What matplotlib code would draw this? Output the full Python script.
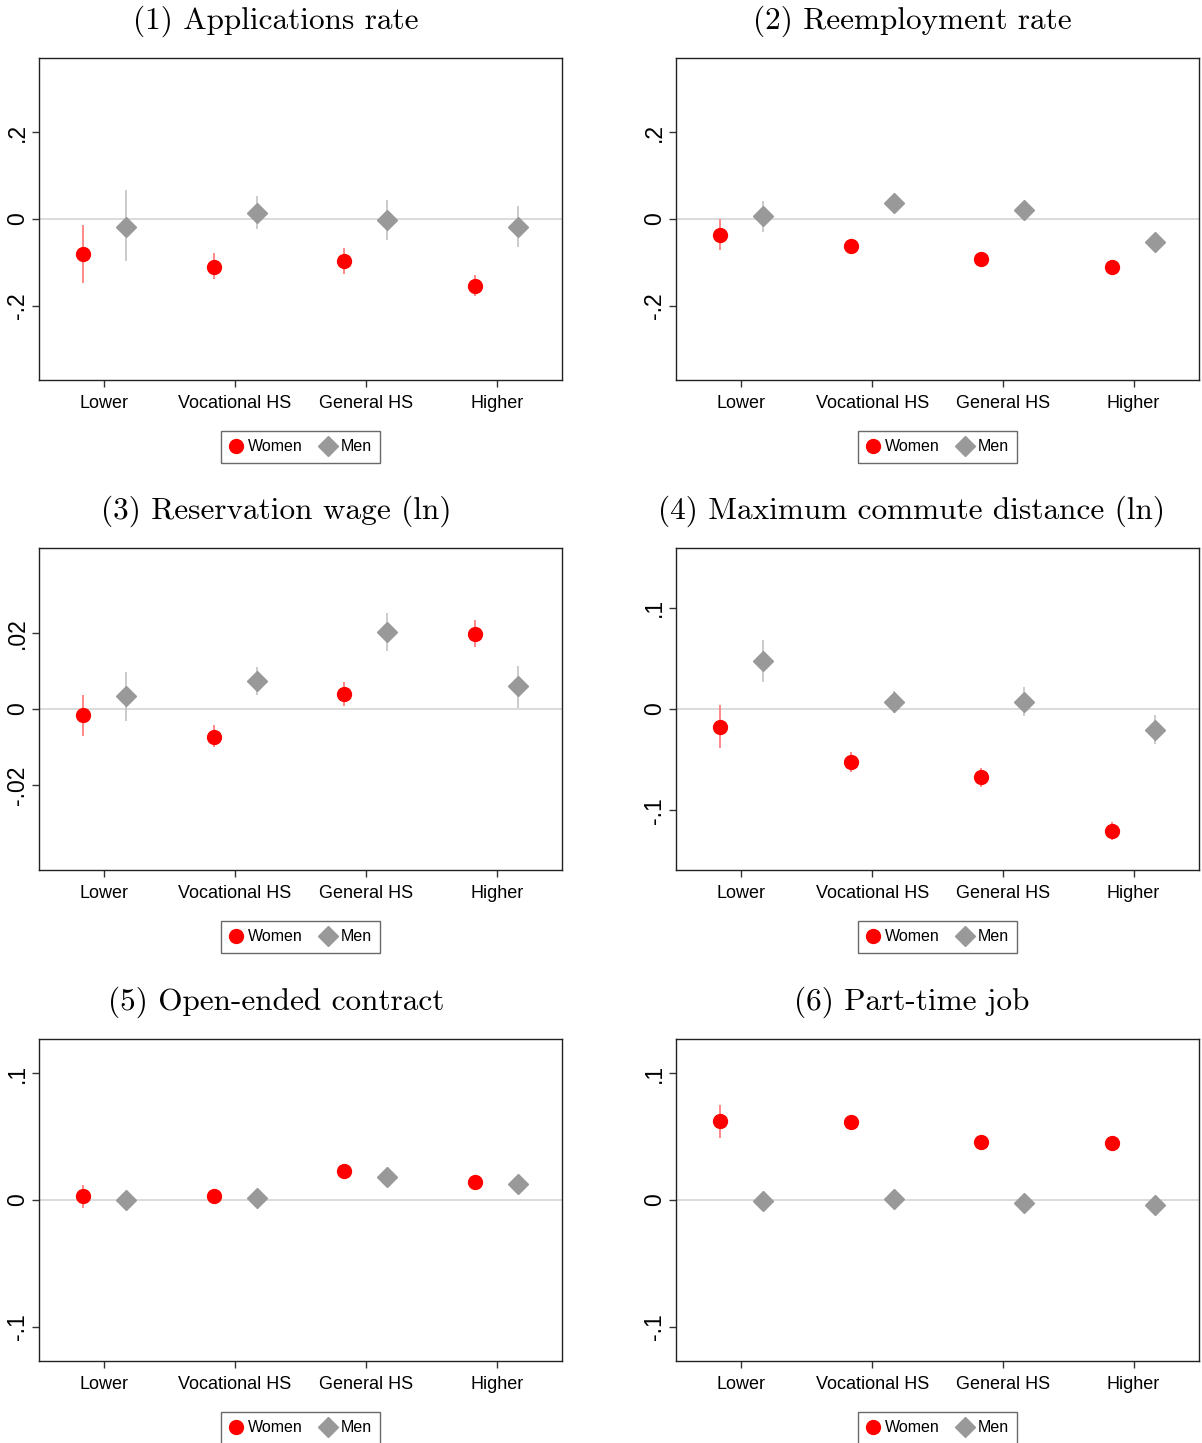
import matplotlib
matplotlib.use("Agg")
import matplotlib.pyplot as plt
from matplotlib.lines import Line2D

categories = ["Lower", "Vocational HS", "General HS", "Higher"]
titles = ["(1) Applications rate", "(2) Reemployment rate",
          "(3) Reservation wage (ln)", "(4) Maximum commute distance (ln)",
          "(5) Open-ended contract", "(6) Part-time job"]

# Panel 1: Applications rate
p1_women = [-0.082, -0.110, -0.096, -0.154]
p1_women_lo = [-0.147, -0.138, -0.126, -0.178]
p1_women_hi = [-0.013, -0.079, -0.066, -0.129]
p1_men = [-0.019, 0.014, -0.003, -0.018]
p1_men_lo = [-0.098, -0.023, -0.049, -0.065]
p1_men_hi = [0.068, 0.052, 0.045, 0.030]

# Panel 2: Reemployment rate
p2_women = [-0.036, -0.062, -0.093, -0.112]
p2_women_lo = [-0.071, -0.069, -0.100, -0.119]
p2_women_hi = [0.000, -0.055, -0.086, -0.105]
p2_men = [0.006, 0.038, 0.021, -0.053]
p2_men_lo = [-0.029, 0.031, 0.014, -0.060]
p2_men_hi = [0.042, 0.045, 0.028, -0.046]

# Panel 3: Reservation wage (ln)
p3_women = [-0.0017, -0.0073, 0.0039, 0.0197]
p3_women_lo = [-0.0072, -0.0100, 0.0008, 0.0162]
p3_women_hi = [0.0038, -0.0043, 0.0071, 0.0234]
p3_men = [0.0033, 0.0073, 0.0201, 0.0059]
p3_men_lo = [-0.0032, 0.0036, 0.0151, 0.0002]
p3_men_hi = [0.0097, 0.0111, 0.0252, 0.0114]

# Panel 4: Maximum commute distance (ln)
p4_women = [-0.0178, -0.052, -0.0674, -0.1207]
p4_women_lo = [-0.0385, -0.0618, -0.0773, -0.1296]
p4_women_hi = [0.0036, -0.0424, -0.058, -0.1118]
p4_men = [0.047, 0.0069, 0.0072, -0.0207]
p4_men_lo = [0.0263, -0.0036, -0.0072, -0.0345]
p4_men_hi = [0.0678, 0.0174, 0.022, -0.0062]

# Panel 5: Open-ended contract
p5_women = [0.0032, 0.0034, 0.0232, 0.0145]
p5_women_lo = [-0.006, -0.001, 0.019, 0.010]
p5_women_hi = [0.0118, 0.008, 0.027, 0.019]
p5_men = [0.0, 0.0013, 0.0184, 0.0126]
p5_men_lo = [-0.003, -0.002, 0.015, 0.009]
p5_men_hi = [0.003, 0.005, 0.022, 0.016]

# Panel 6: Part-time job
p6_women = [0.0624, 0.0613, 0.0455, 0.045]
p6_women_lo = [0.0492, 0.0573, 0.0415, 0.041]
p6_women_hi = [0.0753, 0.0653, 0.0495, 0.049]
p6_men = [-0.001, 0.0008, -0.0024, -0.0037]
p6_men_lo = [-0.004, -0.0022, -0.0054, -0.0067]
p6_men_hi = [0.002, 0.0038, 0.0006, -0.0007]

ylims = [(-0.372, 0.372), (-0.372, 0.372), (-0.0422, 0.0422),
         (-0.159, 0.159), (-0.127, 0.127), (-0.127, 0.127)]
yticks = [[-0.2, 0, 0.2], [-0.2, 0, 0.2], [-0.02, 0, 0.02],
          [-0.1, 0, 0.1], [-0.1, 0, 0.1], [-0.1, 0, 0.1]]
yticklabels = [["-.2", "0", ".2"], ["-.2", "0", ".2"], ["-.02", "0", ".02"],
               ["-.1", "0", ".1"], ["-.1", "0", ".1"], ["-.1", "0", ".1"]]

panels = [
    (p1_women, p1_women_lo, p1_women_hi, p1_men, p1_men_lo, p1_men_hi),
    (p2_women, p2_women_lo, p2_women_hi, p2_men, p2_men_lo, p2_men_hi),
    (p3_women, p3_women_lo, p3_women_hi, p3_men, p3_men_lo, p3_men_hi),
    (p4_women, p4_women_lo, p4_women_hi, p4_men, p4_men_lo, p4_men_hi),
    (p5_women, p5_women_lo, p5_women_hi, p5_men, p5_men_lo, p5_men_hi),
    (p6_women, p6_women_lo, p6_women_hi, p6_men, p6_men_lo, p6_men_hi),
]

RED = "#ff0000"
RED_CI = "#ff6a6a"
GRAY = "#999999"
GRAY_CI = "#bdbdbd"
SANS = "Liberation Sans"

W, H = 1202, 1443
fig = plt.figure(figsize=(W / 100, H / 100), dpi=100)

lefts = [39, 676]
tops = [58, 548, 1039]
aw, ah = 523, 322
title_x = [276, 912]
title_y = [21, 511, 1002]
off = 0.165
xpos = list(range(1, len(categories) + 1))

for i, (wv, wlo, whi, mv, mlo, mhi) in enumerate(panels):
    r, c = divmod(i, 2)
    ax = fig.add_axes([lefts[c] / W, 1 - (tops[r] + ah) / H, aw / W, ah / H])
    ax.axhline(0, color="#d4d4d4", lw=1.2, zorder=1)
    xw = [x - off for x in xpos]
    xm = [x + off for x in xpos]
    ax.vlines(xw, wlo, whi, color=RED_CI, lw=1.1, zorder=2)
    ax.vlines(xm, mlo, mhi, color=GRAY_CI, lw=1.1, zorder=2)
    ax.plot(xw, wv, "o", color=RED, ms=10, mec=RED, zorder=3)
    ax.plot(xm, mv, "D", color=GRAY, ms=10.5, mec=GRAY, zorder=3)
    ax.set_xlim(0.5, 4.5)
    ax.set_ylim(*ylims[i])
    ax.set_xticks(xpos)
    ax.set_xticklabels(categories, fontsize=13, family=SANS)
    ax.set_yticks(yticks[i])
    ax.set_yticklabels(yticklabels[i], fontsize=16.5, family=SANS,
                       rotation=90, va="center")
    ax.tick_params(axis="x", length=5, width=1, color="#333333", pad=6)
    ax.tick_params(axis="y", length=5, width=1, color="#333333", pad=2)
    for s in ax.spines.values():
        s.set_color("#222222")
        s.set_linewidth(1.0)
    handles = [Line2D([], [], marker="o", ls="none", color=RED, ms=10),
               Line2D([], [], marker="D", ls="none", color=GRAY, ms=10)]
    leg = ax.legend(handles, ["Women", "Men"], loc="center",
                    bbox_to_anchor=(0.5, -0.208), ncol=2, frameon=True,
                    fancybox=False, edgecolor="#444444",
                    prop={"family": SANS, "size": 11.5},
                    handletextpad=0.35, columnspacing=1.2, borderpad=0.55,
                    handlelength=0.8, borderaxespad=0)
    leg.get_frame().set_linewidth(1.0)
    fig.text(title_x[c] / W, 1 - title_y[r] / H, titles[i],
             family="cmr10", fontsize=22.5, ha="center", va="center")

fig.savefig("out.png", dpi=100)
